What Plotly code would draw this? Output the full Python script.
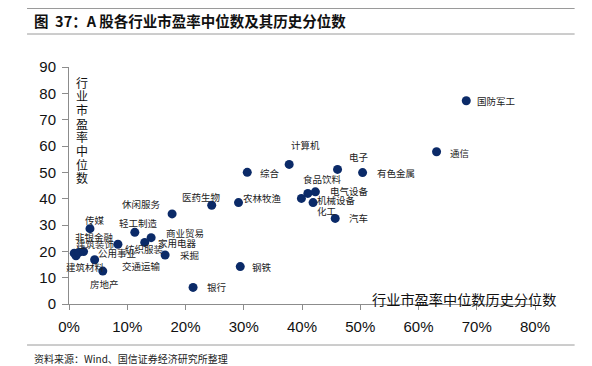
import plotly.graph_objects as go

industries = ["国防军工", "通信", "有色金属", "电子", "计算机", "综合", "食品饮料", "电气设备",
              "化工", "机械设备", "汽车", "农林牧渔", "医药生物", "休闲服务", "传媒", "轻工制造",
              "商业贸易", "家用电器", "纺织服装", "采掘", "银行", "钢铁", "公用事业", "房地产",
              "建筑材料", "交通运输", "建筑装饰", "非银金融"]
percentile = [0.682, 0.631, 0.504, 0.461, 0.378, 0.306, 0.410, 0.423,
              0.399, 0.419, 0.457, 0.291, 0.245, 0.177, 0.036, 0.113,
              0.141, 0.130, 0.084, 0.165, 0.213, 0.294, 0.044, 0.058,
              0.009, 0.012, 0.017, 0.025]
pe_median = [77.2, 57.8, 49.9, 51.1, 53.0, 50.0, 42.0, 42.6,
             40.1, 38.5, 32.5, 38.5, 37.5, 34.2, 28.6, 27.2,
             25.2, 23.4, 22.7, 18.6, 6.3, 14.2, 16.8, 12.5,
             19.3, 18.3, 19.6, 19.9]

x_ticks = [0, 0.1, 0.2, 0.3, 0.4, 0.5, 0.6, 0.7, 0.8]
y_ticks = [0, 10, 20, 30, 40, 50, 60, 70, 80, 90]

title_text = "图  37：A 股各行业市盈率中位数及其历史分位数"
source_text = "资料来源：Wind、国信证券经济研究所整理"
x_title = "行业市盈率中位数历史分位数"
y_title = "行业市盈率中位数"

# label pixel offsets (dx right, dy down) from each point
label_offsets = {
    "国防军工": (30, 0), "通信": (23, 1), "有色金属": (33, 0), "电子": (21, -12),
    "计算机": (16, -19), "综合": (23, 1), "食品饮料": (15, -14), "电气设备": (34, -1),
    "化工": (26, 13), "机械设备": (23, -3), "汽车": (23, 0), "农林牧渔": (24, -5),
    "医药生物": (-10, -8), "休闲服务": (-31, -10), "传媒": (5, -9), "轻工制造": (4, -9),
    "商业贸易": (34, -5), "家用电器": (33, 1), "纺织服装": (27, 5), "采掘": (24, 0),
    "银行": (24, 0), "钢铁": (22, 0), "公用事业": (22, -7), "房地产": (2, 13),
    "建筑材料": (11, 14), "交通运输": (66, 10), "建筑装饰": (16, -8), "非银金融": (11, -15),
}

navy = "#0b2a68"
axis_gray = "#8c8c8c"
rule_gray = "#9a9a9a"
cjk = "Noto Sans CJK SC"

# page body has an 8px margin, so the figure is 8px smaller on each side
W, H = 584, 358
ML, MR, MT, MB = 61, 57, 59, 62
plot_h = H - MT - MB


def py_to_paper(py):
    return (H - MB - py) / plot_h


fig = go.Figure()
fig.add_trace(go.Scatter(
    x=percentile, y=pe_median, mode="markers",
    marker=dict(size=9, color=navy), hoverinfo="text", text=industries,
    cliponaxis=False, showlegend=False,
))

annotations = []
for name, xv, yv in zip(industries, percentile, pe_median):
    dx, dy = label_offsets[name]
    annotations.append(dict(
        x=xv, y=yv, xref="x", yref="y", text=name, showarrow=False,
        xshift=dx, yshift=-dy, xanchor="center", yanchor="middle",
        font=dict(family=cjk, size=9.5, color="#222222"),
    ))

# x axis title
annotations.append(dict(
    x=1, y=0, xref="paper", yref="paper", xshift=23, yshift=5,
    text=x_title, showarrow=False, xanchor="right", yanchor="middle",
    font=dict(family=cjk, size=14.2, color="#111111"),
))
# y axis title, stacked characters
for i, ch in enumerate(y_title):
    annotations.append(dict(
        x=0, y=1, xref="paper", yref="paper", xshift=13, yshift=-(15 + 13.7 * i),
        text=ch, showarrow=False, xanchor="center", yanchor="middle",
        font=dict(family=cjk, size=12, color="#111111"),
    ))
# figure title and source
annotations.append(dict(
    x=0, y=1, xref="paper", yref="paper", xshift=-37, yshift=47,
    text="<b>" + title_text + "</b>", showarrow=False,
    xanchor="left", yanchor="middle",
    font=dict(family=cjk, size=14.5, color="#111111"),
))
annotations.append(dict(
    x=0, y=0, xref="paper", yref="paper", xshift=-37, yshift=-54,
    text=source_text, showarrow=False, xanchor="left", yanchor="middle",
    font=dict(family=cjk, size=10, color="#222222"),
))

shapes = [
    dict(type="line", xref="paper", yref="paper", x0=-0.09, x1=1.085,
         y0=py_to_paper(0.5), y1=py_to_paper(0.5), line=dict(color=rule_gray, width=1)),
    dict(type="line", xref="paper", yref="paper", x0=-0.09, x1=1.085,
         y0=py_to_paper(26), y1=py_to_paper(26), line=dict(color=rule_gray, width=1)),
    dict(type="line", xref="paper", yref="paper", x0=-0.09, x1=1.085,
         y0=py_to_paper(337), y1=py_to_paper(337), line=dict(color=rule_gray, width=1)),
]

fig.update_layout(
    width=W, height=H,
    margin=dict(l=ML, r=MR, t=MT, b=MB),
    paper_bgcolor="white", plot_bgcolor="white",
    font=dict(family="Liberation Sans, Arial", color="#111111"),
    annotations=annotations, shapes=shapes,
    xaxis=dict(range=[0, 0.8], tickvals=x_ticks, tickformat=".0%",
               showgrid=False, zeroline=False, showline=True, linecolor=axis_gray,
               ticks="outside", ticklen=5, tickcolor=axis_gray,
               tickfont=dict(size=15, family="Liberation Sans, Arial", color="#111111"),
               ticklabelstandoff=4),
    yaxis=dict(range=[0, 90], tickvals=y_ticks,
               showgrid=False, zeroline=False, showline=True, linecolor=axis_gray,
               ticks="outside", ticklen=6, tickcolor=axis_gray,
               tickfont=dict(size=15, family="Liberation Sans, Arial", color="#111111"),
               ticklabelstandoff=3),
)

fig.write_html("out.html")
